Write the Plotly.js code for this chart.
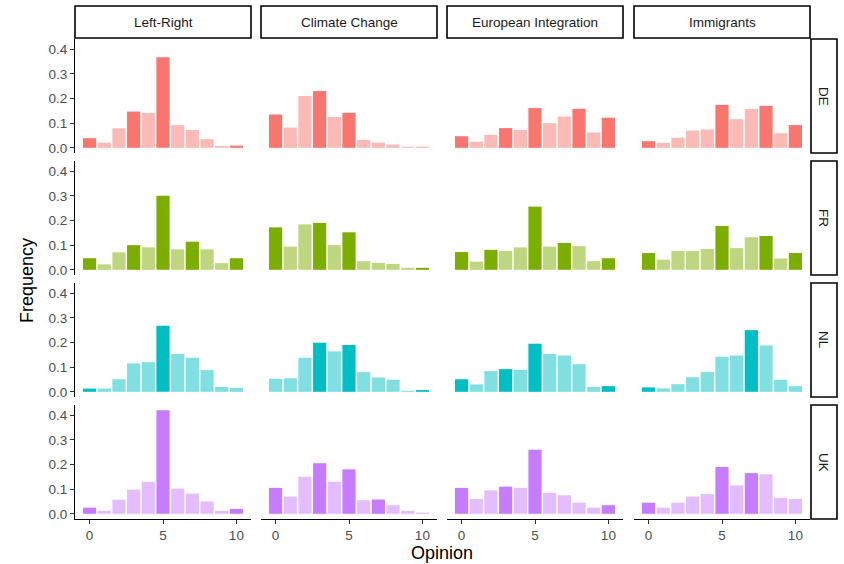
<!DOCTYPE html>
<html>
<head>
<meta charset="utf-8">
<script src="https://cdn.plot.ly/plotly-3.0.1.min.js"></script>
<style>html,body{margin:0;padding:0;background:#fff;}#chart{width:844px;height:564px;}</style>
</head>
<body>
<div id="chart"></div>
<script>
// ---- data ----
const opinions = [0,1,2,3,4,5,6,7,8,9,10];
const countries = ["DE","FR","NL","UK"];
const issues = ["Left-Right","Climate Change","European Integration","Immigrants"];
const yTickVals = [0,0.1,0.2,0.3,0.4];
const xTickVals = [0,5,10];

const DE_LeftRight   = [0.039,0.021,0.079,0.147,0.141,0.367,0.092,0.072,0.035,0.007,0.009];
const DE_Climate     = [0.135,0.082,0.210,0.230,0.125,0.142,0.032,0.021,0.013,0.004,0.005];
const DE_European    = [0.047,0.025,0.052,0.080,0.072,0.161,0.100,0.127,0.158,0.062,0.122];
const DE_Immigrants  = [0.027,0.020,0.041,0.070,0.074,0.174,0.116,0.158,0.170,0.059,0.092];
const FR_LeftRight   = [0.047,0.022,0.071,0.100,0.091,0.300,0.083,0.114,0.083,0.027,0.047];
const FR_Climate     = [0.172,0.094,0.184,0.190,0.100,0.152,0.035,0.028,0.024,0.008,0.008];
const FR_European    = [0.072,0.033,0.081,0.076,0.091,0.256,0.094,0.109,0.096,0.035,0.047];
const FR_Immigrants  = [0.068,0.041,0.076,0.076,0.084,0.178,0.088,0.132,0.137,0.046,0.068];
const NL_LeftRight   = [0.013,0.013,0.051,0.115,0.120,0.268,0.153,0.138,0.088,0.020,0.016];
const NL_Climate     = [0.053,0.055,0.138,0.199,0.164,0.190,0.080,0.058,0.049,0.004,0.007];
const NL_European    = [0.051,0.030,0.084,0.092,0.089,0.195,0.153,0.147,0.112,0.020,0.023];
const NL_Immigrants  = [0.018,0.014,0.031,0.059,0.080,0.142,0.147,0.250,0.188,0.049,0.023];
const UK_LeftRight   = [0.025,0.012,0.057,0.098,0.130,0.420,0.102,0.082,0.050,0.012,0.020];
const UK_Climate     = [0.105,0.070,0.150,0.205,0.130,0.180,0.055,0.058,0.035,0.012,0.005];
const UK_European    = [0.105,0.060,0.095,0.110,0.105,0.260,0.085,0.075,0.045,0.025,0.035];
const UK_Immigrants  = [0.045,0.025,0.045,0.070,0.080,0.190,0.115,0.165,0.160,0.065,0.060];

// opinions highlighted (dark shade) in each panel
const DE_dark = [[0,3,5,10],[0,3,5],[0,3,5,8,10],[0,5,8,10]];
const FR_dark = [[0,3,5,7,10],[0,3,5,10],[0,2,5,7,10],[0,5,8,10]];
const NL_dark = [[0,5],[3,5,10],[0,3,5,10],[0,7]];
const UK_dark = [[0,5,10],[0,3,5,7],[0,3,5,10],[0,5,7]];

const values = [
  [DE_LeftRight, DE_Climate, DE_European, DE_Immigrants],
  [FR_LeftRight, FR_Climate, FR_European, FR_Immigrants],
  [NL_LeftRight, NL_Climate, NL_European, NL_Immigrants],
  [UK_LeftRight, UK_Climate, UK_European, UK_Immigrants]
];
const darks = [DE_dark, FR_dark, NL_dark, UK_dark];

// ---- styles ----
const darkCol  = ["#F8766D","#7CAE00","#00BFC4","#C77CFF"];
const lightCol = ["#FBBAB6","#BDD67F","#7FDFE1","#E3BDFF"];
const W = 844, H = 564;
const colLeft = [75, 261, 447, 634], colW = 176;
const rowTop = [39, 161, 283, 405], rowH = 114;
const FONT = "Liberation Sans, Arial, sans-serif";

const data = [];
const layout = {
  width: W, height: H,
  margin: {l:0, r:0, t:0, b:0},
  paper_bgcolor: "#fff", plot_bgcolor: "#fff",
  showlegend: false, bargap: 0.1,
  font: {family: FONT},
  shapes: [], annotations: []
};

for (let r = 0; r < 4; r++) {
  for (let c = 0; c < 4; c++) {
    const k = r*4 + c + 1;
    const xa = "x" + (k === 1 ? "" : k), ya = "y" + (k === 1 ? "" : k);
    const colors = opinions.map(o => darks[r][c].includes(o) ? darkCol[r] : lightCol[r]);
    data.push({
      type: "bar", x: opinions, y: values[r][c], xaxis: xa, yaxis: ya,
      width: 0.9, marker: {color: colors, line: {width: 0}},
      hoverinfo: "x+y"
    });
    const xd = [colLeft[c]/W, (colLeft[c]+colW)/W];
    const yd = [1 - (rowTop[r]+rowH)/H, 1 - rowTop[r]/H];
    const bottom = r === 3, left = c === 0;
    layout["xaxis" + (k === 1 ? "" : k)] = {
      domain: xd, anchor: ya, range: [-0.995, 10.995],
      tickvals: xTickVals, showticklabels: bottom,
      ticks: bottom ? "outside" : "", ticklen: 4, tickcolor: "#333333", tickwidth: 1,
      showline: bottom, linecolor: "#000", linewidth: 1.1,
      showgrid: false, zeroline: false,
      tickfont: {size: 13.5, color: "#4D4D4D", family: FONT}, fixedrange: true
    };
    layout["yaxis" + (k === 1 ? "" : k)] = {
      domain: yd, anchor: xa, range: [-0.021, 0.441],
      tickvals: yTickVals, tickformat: ".1f", showticklabels: left,
      ticks: left ? "outside" : "", ticklen: 4, tickcolor: "#333333", tickwidth: 1,
      showline: left, linecolor: "#000", linewidth: 1.1,
      showgrid: false, zeroline: false,
      tickfont: {size: 13.5, color: "#4D4D4D", family: FONT}, fixedrange: true
    };
  }
}

// top strips
for (let c = 0; c < 4; c++) {
  layout.shapes.push({type:"rect", xref:"paper", yref:"paper",
    x0: colLeft[c]/W, x1: (colLeft[c]+colW)/W, y0: 1-38/H, y1: 1-6/H,
    line:{color:"#000", width:1.6}, fillcolor:"#fff", layer:"below"});
  layout.annotations.push({xref:"paper", yref:"paper",
    x: (colLeft[c]+colW/2)/W, y: 1-22/H, text: issues[c], showarrow:false,
    font:{size:13.5, color:"#1A1A1A", family: FONT}, xanchor:"center", yanchor:"middle"});
}
// right strips
for (let r = 0; r < 4; r++) {
  layout.shapes.push({type:"rect", xref:"paper", yref:"paper",
    x0: 811/W, x1: 837/W, y0: 1-(rowTop[r]+rowH)/H, y1: 1-rowTop[r]/H,
    line:{color:"#000", width:1.6}, fillcolor:"#fff", layer:"below"});
  layout.annotations.push({xref:"paper", yref:"paper",
    x: 824/W, y: 1-(rowTop[r]+rowH/2)/H, text: countries[r], showarrow:false, textangle: 90,
    font:{size:13.5, color:"#1A1A1A", family: FONT}, xanchor:"center", yanchor:"middle"});
}
// axis titles
layout.annotations.push({xref:"paper", yref:"paper", x: 442/W, y: 1-553/H,
  text:"Opinion", showarrow:false, font:{size:18, color:"#000", family: FONT},
  xanchor:"center", yanchor:"middle"});
layout.annotations.push({xref:"paper", yref:"paper", x: 27/W, y: 1-280/H,
  text:"Frequency", showarrow:false, textangle:-90, font:{size:18, color:"#000", family: FONT},
  xanchor:"center", yanchor:"middle"});

Plotly.newPlot("chart", data, layout, {displayModeBar:false, staticPlot:true});
</script>
</body>
</html>
